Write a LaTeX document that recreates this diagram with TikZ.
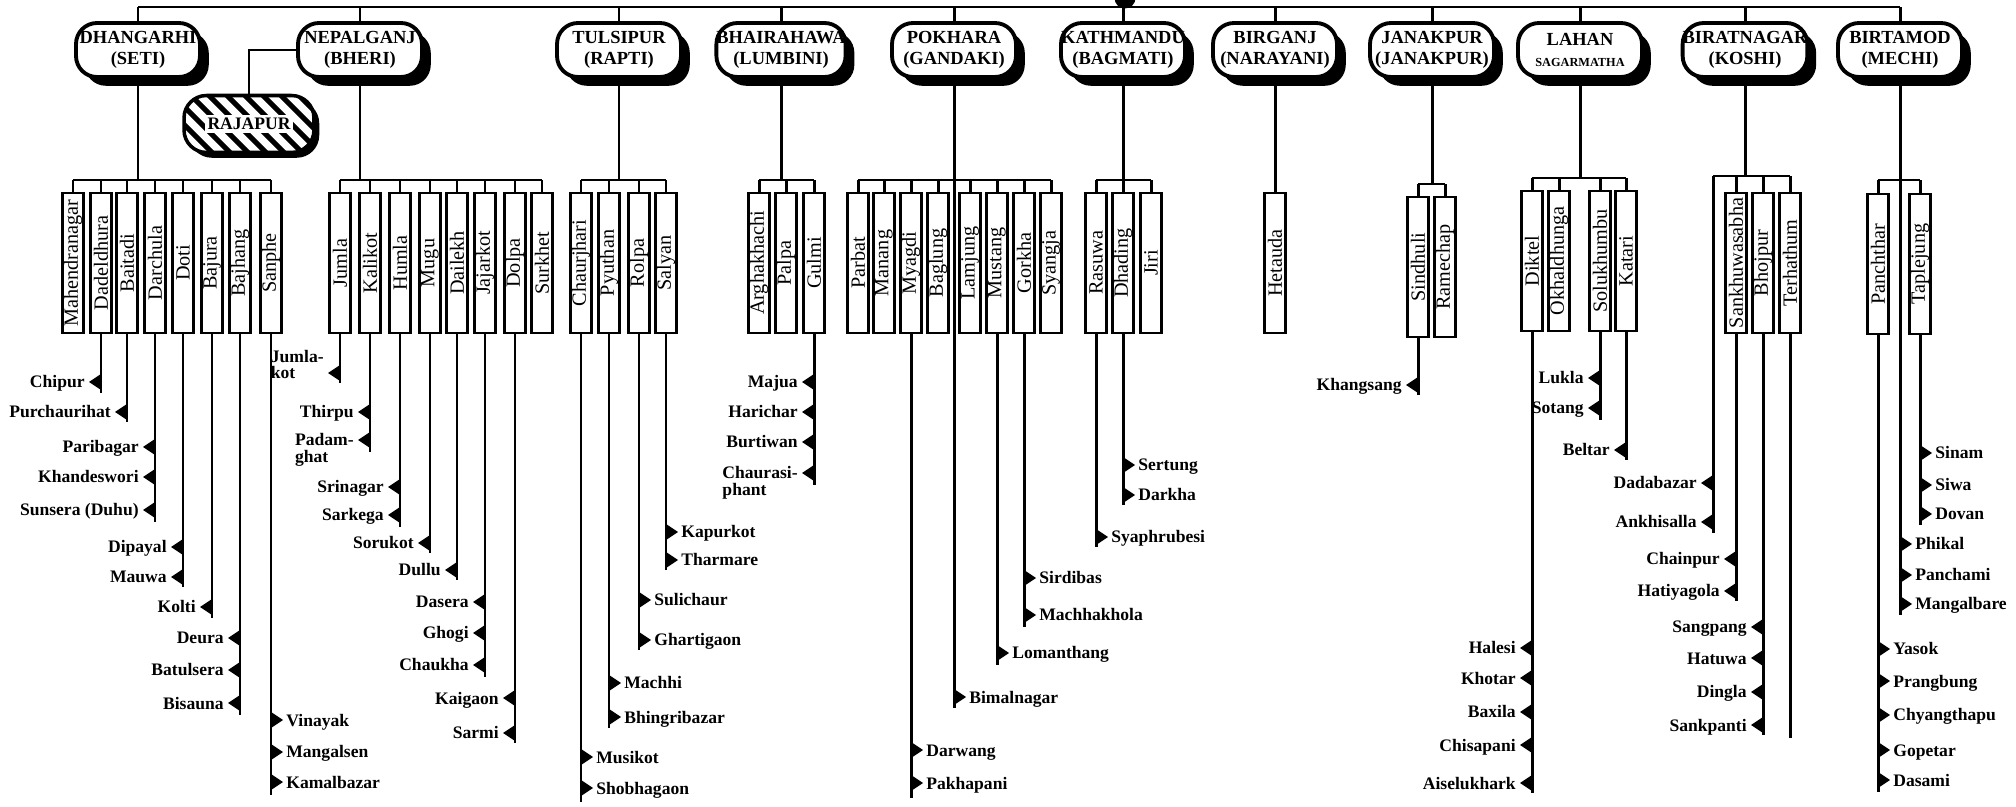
\documentclass[tikz,border=0pt]{standalone}
\usepackage{fontspec}
\setmainfont{Liberation Serif}
\usepackage{graphicx}
\usetikzlibrary{shadows, calc}
\setlength{\fboxsep}{1.5pt}

% two-line leaf label, [t] or [b] gives the line that sits on the marker
\newcommand{\two}[3][t]{{\def\arraystretch{0.68}\begin{tabular}[#1]{@{}l@{}}#2\\#3\end{tabular}}}

\tikzset{
    link/.style={line width=1.7pt},
    region/.style={rectangle, rounded corners=0.42cm, draw, line width=2.2pt, fill=white,
                   minimum width=2.48cm, minimum height=1.08cm, inner sep=0pt, align=center,
                   font=\fontsize{10.5}{12}\selectfont\bfseries,
                   drop shadow={shadow xshift=5pt, shadow yshift=-5pt, opacity=1, fill=black}},
    subregion/.style={rectangle, rounded corners=0.45cm, draw, line width=2pt, fill=white,
                   minimum width=2.6cm, minimum height=1.14cm, inner sep=0pt,
                   font=\fontsize{10}{11.5}\selectfont\bfseries,
                   drop shadow={shadow xshift=3pt, shadow yshift=-3pt, opacity=1, fill=black},
                   path picture={\foreach \s in {0,...,16}
                       \draw[line width=3pt] ($(path picture bounding box.north west)+(\s*0.36cm-1.4cm,0.1cm)$) -- ++(1.5cm,-1.5cm);}},
    dist/.style={rectangle, draw, line width=1.6pt, fill=white, minimum width=0.42cm,
                 minimum height=2.8cm, inner sep=0pt, font=\fontsize{11.5}{13}\selectfont},
    leaf/.style={font=\fontsize{10}{12}\selectfont\bfseries, inner sep=0pt},
}

% leaf line with markers pointing west / east
\newcommand{\leafW}[4]{%
    \draw[link] (#1) -- (#1 |- 0,#3);
    \foreach \y/\lbl [count=\i] in {#4} {
        \coordinate (#2-m\i) at (#1 |- 0,\y);
        \fill (#2-m\i) ++(0,-8) -- ++(-12,8) -- ++(12,8) -- cycle;
        \node[leaf, anchor=base east, xshift=-0.32cm, yshift=-0.12cm] (#2-\i) at (#2-m\i) {\lbl};
    }}
\newcommand{\leafE}[4]{%
    \draw[link] (#1) -- (#1 |- 0,#3);
    \foreach \y/\lbl [count=\i] in {#4} {
        \coordinate (#2-m\i) at (#1 |- 0,\y);
        \fill (#2-m\i) ++(0,-8) -- ++(12,8) -- ++(-12,8) -- cycle;
        \node[leaf, anchor=base west, xshift=0.30cm, yshift=-0.12cm] (#2-\i) at (#2-m\i) {\lbl};
    }}

\begin{document}
\begin{tikzpicture}[x=0.02cm, y=-0.02cm]
    \path[fill=white] (0,0) rectangle (2016,807);
    \useasboundingbox (0,0) rectangle (2016,807);

    % regional offices
    \node[region] (dhan)  at (138,50)  {DHANGARHI\\(SETI)};
    \node[region] (nepal) at (360,50)  {NEPALGANJ\\(BHERI)};
    \node[region] (tuls)  at (619,50)  {TULSIPUR\\(RAPTI)};
    \node[region] (bhai)  at (781,50)  {BHAIRAHAWA\\(LUMBINI)};
    \node[region] (pokh)  at (954,50)  {POKHARA\\(GANDAKI)};
    \node[region] (kath)  at (1123,50) {KATHMANDU\\(BAGMATI)};
    \node[region] (birg)  at (1275,50) {BIRGANJ\\(NARAYANI)};
    \node[region] (jana)  at (1432,50) {JANAKPUR\\(JANAKPUR)};
    \node[region] (lahan) at (1580,50) {LAHAN\\{\fontsize{7}{8}\selectfont SAGARMATHA}};
    \node[region] (birat) at (1745,50) {BIRATNAGAR\\(KOSHI)};
    \node[region] (birt)  at (1900,50) {BIRTAMOD\\(MECHI)};
    \node[subregion] (raja) at (249,124) {\colorbox{white}{RAJAPUR}};

    \node[circle, fill, inner sep=0pt, minimum size=0.42cm] (hub) at (1125,-2) {};
    \draw[link] (dhan.north |- 0,7) -- (birt.north |- 0,7);
    \foreach \r in {dhan, nepal, tuls, bhai, pokh, kath, birg, jana, lahan, birat, birt}
        \draw[link] (\r.north) -- (\r.north |- 0,7);
    \draw[link] (nepal.west) -| (raja.north);

    % districts
    \foreach \n/\x in {Mahendranagar/73, Dadeldhura/101, Baitadi/127, Darchula/155, Doti/183, Bajura/212, Bajhang/240, Sanphe/271}
        {\node[dist] (d-\n) at (\x,263) {\rotatebox{90}{\n}};
         \draw[link] (d-\n.north) -- (d-\n.north |- 0,180);}
    \draw[link] (d-Mahendranagar.north |- 0,180) -- (d-Sanphe.north |- 0,180);
    \draw[link] (dhan.south) -- (dhan.south |- 0,180);

    \foreach \n/\x in {Jumla/340, Kalikot/370, Humla/400, Mugu/430, Dailekh/457, Jajarkot/485, Dolpa/515, Surkhet/542}
        {\node[dist] (d-\n) at (\x,263) {\rotatebox{90}{\n}};
         \draw[link] (d-\n.north) -- (d-\n.north |- 0,180);}
    \draw[link] (d-Jumla.north |- 0,180) -- (d-Surkhet.north |- 0,180);
    \draw[link] (nepal.south) -- (nepal.south |- 0,180);

    \foreach \n/\x in {Chaurjhari/581, Pyuthan/609, Rolpa/639, Salyan/666}
        {\node[dist] (d-\n) at (\x,263) {\rotatebox{90}{\n}};
         \draw[link] (d-\n.north) -- (d-\n.north |- 0,180);}
    \draw[link] (d-Chaurjhari.north |- 0,180) -- (d-Salyan.north |- 0,180);
    \draw[link] (tuls.south) -- (tuls.south |- 0,180);

    \foreach \n/\x in {Arghakhachi/759, Palpa/786, Gulmi/814}
        {\node[dist] (d-\n) at (\x,263) {\rotatebox{90}{\n}};
         \draw[link] (d-\n.north) -- (d-\n.north |- 0,180);}
    \draw[link] (d-Arghakhachi.north |- 0,180) -- (d-Gulmi.north |- 0,180);
    \draw[link] (bhai.south) -- (bhai.south |- 0,180);

    \foreach \n/\x in {Parbat/858, Manang/884, Myagdi/911, Baglung/938, Lamjung/970, Mustang/997, Gorkha/1024, Syangja/1051}
        {\node[dist] (d-\n) at (\x,263) {\rotatebox{90}{\n}};
         \draw[link] (d-\n.north) -- (d-\n.north |- 0,180);}
    \draw[link] (d-Parbat.north |- 0,180) -- (d-Syangja.north |- 0,180);

    \foreach \n/\x in {Rasuwa/1096, Dhading/1123, Jiri/1151}
        {\node[dist] (d-\n) at (\x,263) {\rotatebox{90}{\n}};
         \draw[link] (d-\n.north) -- (d-\n.north |- 0,180);}
    \draw[link] (d-Rasuwa.north |- 0,180) -- (d-Jiri.north |- 0,180);
    \draw[link] (kath.south) -- (kath.south |- 0,180);

    \node[dist] (d-Hetauda) at (1275,263) {\rotatebox{90}{Hetauda}};
    \draw[link] (birg.south) -- (d-Hetauda.north);

    \foreach \n/\x in {Sindhuli/1418, Ramechap/1445}
        {\node[dist] (d-\n) at (\x,267) {\rotatebox{90}{\n}};
         \draw[link] (d-\n.north) -- (d-\n.north |- 0,184);}
    \draw[link] (d-Sindhuli.north |- 0,184) -- (d-Ramechap.north |- 0,184);
    \draw[link] (jana.south) -- (jana.south |- 0,184);

    \foreach \n/\x in {Diktel/1532, Okhaldhunga/1559, Solukhumbu/1600, Katari/1626}
        {\node[dist] (d-\n) at (\x,261) {\rotatebox{90}{\n}};
         \draw[link] (d-\n.north) -- (d-\n.north |- 0,178);}
    \draw[link] (d-Diktel.north |- 0,178) -- (d-Katari.north |- 0,178);
    \draw[link] (lahan.south) -- (lahan.south |- 0,178);

    \foreach \n/\x in {Sankhuwasabha/1736, Bhojpur/1763, Terhathum/1790}
        {\node[dist] (d-\n) at (\x,263) {\rotatebox{90}{\n}};
         \draw[link] (d-\n.north) -- (d-\n.north |- 0,176);}
    \coordinate (bir-bl) at (1713,176);
    \draw[link] (bir-bl) -- (d-Terhathum.north |- 0,176);
    \draw[link] (birat.south) -- (birat.south |- 0,176);

    \foreach \n/\x in {Panchthar/1878, Taplejung/1920}
        {\node[dist] (d-\n) at (\x,264) {\rotatebox{90}{\n}};
         \draw[link] (d-\n.north) -- (d-\n.north |- 0,180);}
    \draw[link] (d-Panchthar.north |- 0,180) -- (d-Taplejung.north |- 0,180);

    % places
    \leafW{d-Dadeldhura.south}{dad}{393}{382/Chipur}
    \leafW{d-Baitadi.south}{bai}{422}{412/Purchaurihat}
    \leafW{d-Darchula.south}{dar}{522}{447/Paribagar, 477/Khandeswori, 510/Sunsera (Duhu)}
    \leafW{d-Doti.south}{dot}{587}{547/Dipayal, 577/Mauwa}
    \leafW{d-Bajura.south}{bjr}{618}{607/Kolti}
    \leafW{d-Bajhang.south}{bjh}{715}{638/Deura, 670/Batulsera, 703/Bisauna}
    \leafE{d-Sanphe.south}{san}{795}{720/Vinayak, 752/Mangalsen, 782/Kamalbazar}

    \leafW{d-Jumla.south}{jum}{383}{373/\two[b]{Jumla-}{kot}}
    \leafW{d-Kalikot.south}{kal}{452}{412/Thirpu, 440/\two[t]{Padam-}{ghat}}
    \leafW{d-Humla.south}{hum}{527}{487/Srinagar, 515/Sarkega}
    \leafW{d-Mugu.south}{mug}{553}{543/Sorukot}
    \leafW{d-Dailekh.south}{dai}{580}{570/Dullu}
    \leafW{d-Jajarkot.south}{jaj}{677}{602/Dasera, 633/Ghogi, 665/Chaukha}
    \leafW{d-Dolpa.south}{dol}{743}{698/Kaigaon, 733/Sarmi}

    \leafE{d-Chaurjhari.south}{chj}{802}{757/Musikot, 788/Shobhagaon}
    \leafE{d-Pyuthan.south}{pyu}{728}{683/Machhi, 717/Bhingribazar}
    \leafE{d-Rolpa.south}{rol}{650}{600/Sulichaur, 640/Ghartigaon}
    \leafE{d-Salyan.south}{sal}{570}{532/Kapurkot, 560/Tharmare}

    \leafW{d-Gulmi.south}{gul}{485}{382/Majua, 412/Harichar, 442/Burtiwan, 473/\two[t]{Chaurasi-}{phant}}

    \leafE{d-Myagdi.south}{mya}{798}{750/Darwang, 783/Pakhapani}
    \leafE{pokh.south}{pok}{708}{697/Bimalnagar}
    \leafE{d-Mustang.south}{mus}{665}{653/Lomanthang}
    \leafE{d-Gorkha.south}{gor}{627}{578/Sirdibas, 615/Machhakhola}

    \leafE{d-Rasuwa.south}{ras}{547}{537/Syaphrubesi}
    \leafE{d-Dhading.south}{dha}{505}{465/Sertung, 495/Darkha}

    \leafW{d-Sindhuli.south}{sin}{395}{385/Khangsang}

    \leafW{d-Diktel.south}{dik}{793}{648/Halesi, 678/Khotar, 712/Baxila, 745/Chisapani, 783/Aiselukhark}
    \leafW{d-Solukhumbu.south}{sol}{420}{378/Lukla, 408/Sotang}
    \leafW{d-Katari.south}{kat}{460}{450/Beltar}

    \leafW{bir-bl}{bbl}{533}{483/Dadabazar, 522/Ankhisalla}
    \leafW{d-Sankhuwasabha.south}{sak}{601}{559/Chainpur, 591/Hatiyagola}
    \leafW{d-Bhojpur.south}{bho}{735}{627/Sangpang, 658/Hatuwa, 692/Dingla, 725/Sankpanti}
    \draw[link] (d-Terhathum.south) -- (d-Terhathum.south |- 0,738);

    \leafE{d-Taplejung.south}{tap}{525}{453/Sinam, 485/Siwa, 514/Dovan}
    \leafE{birt.south}{btm}{615}{544/Phikal, 575/Panchami, 604/Mangalbare}
    \leafE{d-Panchthar.south}{pan}{792}{649/Yasok, 681/Prangbung, 715/Chyangthapu, 750/Gopetar, 780/Dasami}
\end{tikzpicture}
\end{document}
